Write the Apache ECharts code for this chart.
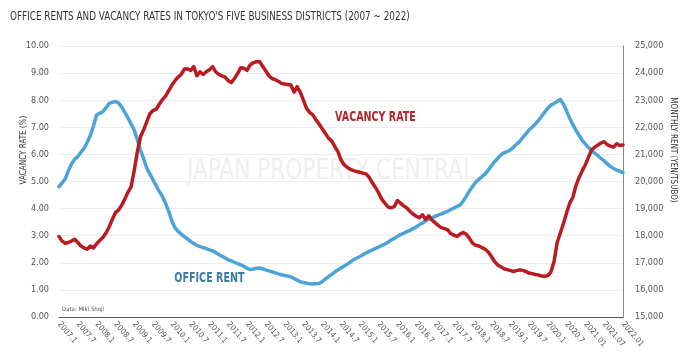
<!DOCTYPE html>
<html><head><meta charset="utf-8">
<script src="https://cdn.jsdelivr.net/npm/echarts@6/dist/echarts.min.js"></script>
<style>html,body{margin:0;padding:0;background:#fff}#c{width:688px;height:359px}</style>
</head><body><div id="c"></div>
<script>
const tickLabels = ['2007.1','2007.7','2008.1','2008.7','2009.1','2009.7','2010.1','2010.7','2011.1','2011.7',
  '2012.1','2012.7','2013.1','2013.7','2014.1','2014.7','2015.1','2015.7','2016.1','2016.7',
  '2017.1','2017.7','2018.1','2018.7','2019.1','2019.7','2020.1','2020.7','2021.01','2021.07','2022.01'];

// Vacancy rate (%), monthly 2007.1 - 2022.1
const vacancyRate = [
  2.97,2.80,2.72,2.75,2.80,2.87,2.75,2.62,2.55,2.50,2.62,2.55,
  2.70,2.82,2.93,3.10,3.32,3.60,3.85,3.95,4.12,4.35,4.60,4.80,
  5.40,6.10,6.65,6.90,7.20,7.50,7.62,7.66,7.85,8.02,8.15,8.35,
  8.55,8.72,8.85,8.95,9.15,9.16,9.10,9.24,8.90,9.05,8.95,9.05,
  9.12,9.24,9.05,8.95,8.90,8.85,8.72,8.65,8.80,8.98,9.20,9.18,
  9.10,9.30,9.38,9.42,9.43,9.25,9.08,8.90,8.80,8.76,8.70,8.62,
  8.60,8.58,8.56,8.30,8.50,8.30,8.00,7.70,7.55,7.46,7.28,7.12,
  6.95,6.78,6.60,6.50,6.30,6.10,5.80,5.62,5.52,5.45,5.40,5.37,
  5.34,5.31,5.28,5.15,4.95,4.78,4.58,4.35,4.20,4.06,4.03,4.07,
  4.30,4.20,4.10,4.02,3.90,3.80,3.72,3.66,3.77,3.60,3.73,3.58,
  3.48,3.38,3.30,3.26,3.22,3.08,3.02,2.97,3.06,3.12,3.05,2.90,
  2.72,2.65,2.62,2.56,2.50,2.40,2.23,2.05,1.92,1.85,1.78,1.75,
  1.72,1.68,1.71,1.74,1.72,1.68,1.62,1.60,1.57,1.55,1.51,1.50,
  1.53,1.66,2.05,2.75,3.10,3.45,3.85,4.20,4.42,4.85,5.15,5.40,
  5.62,5.90,6.17,6.27,6.35,6.42,6.47,6.36,6.30,6.27,6.39,6.33,
  6.35
];

// Monthly rent (yen/tsubo), monthly 2007.1 - 2022.1
const officeRent = [
  19810,19950,20100,20400,20650,20820,20920,21080,21220,21450,21700,22050,
  22450,22520,22580,22720,22880,22920,22950,22900,22750,22550,22350,22120,
  21900,21550,21150,20850,20500,20280,20060,19850,19630,19450,19200,18900,
  18550,18300,18160,18060,17970,17880,17790,17710,17640,17600,17560,17520,
  17480,17440,17380,17300,17240,17180,17110,17070,17020,16970,16930,16870,
  16800,16750,16770,16800,16810,16780,16740,16700,16670,16630,16590,16560,
  16530,16510,16480,16420,16360,16300,16270,16250,16230,16220,16230,16240,
  16300,16400,16490,16570,16660,16740,16810,16880,16950,17030,17110,17170,
  17230,17300,17360,17420,17480,17530,17580,17640,17690,17760,17840,17900,
  17970,18040,18090,18150,18200,18260,18320,18400,18470,18550,18610,18660,
  18710,18760,18800,18850,18900,18960,19020,19080,19130,19280,19460,19650,
  19820,19980,20080,20180,20280,20420,20580,20730,20850,20980,21060,21100,
  21160,21260,21380,21470,21620,21760,21900,22000,22120,22250,22400,22560,
  22700,22820,22880,22950,23030,22850,22600,22330,22100,21880,21700,21520,
  21380,21250,21140,21050,20950,20850,20750,20650,20550,20480,20420,20370,
  20330
];

// Series annotation labels: [text, month index, value on its own axis, yAxisIndex, colour]
const annotations = [
  ['VACANCY RATE', 101, 7.36, 0, '#b3262f'],
  ['OFFICE RENT', 48, 16430, 1, '#3b7ca5']
];

const months = [];
for (let y = 2007; y <= 2022; y++) {
  for (let m = 1; m <= 12; m++) {
    if (months.length < vacancyRate.length) months.push(y + '.' + m);
  }
}

const NARROW = '"Liberation Sans Narrow","DejaVu Sans Condensed",sans-serif';
const chart = echarts.init(document.getElementById('c'), null, {renderer: 'canvas'});
const baseGraphics = [
  {type: 'text', x: 10, y: 17, scaleX: 0.82, silent: true,
   style: {text: "OFFICE RENTS AND VACANCY RATES IN TOKYO'S FIVE BUSINESS DISTRICTS (2007 ~ 2022)",
     fill: '#333', font: '12px ' + NARROW, align: 'left', verticalAlign: 'middle'}},
  {type: 'text', x: 331, y: 172, scaleX: 0.86, silent: true, z: 0,
   style: {text: 'JAPAN PROPERTY CENTRAL', fill: '#efefef', font: '28px ' + NARROW, align: 'center', verticalAlign: 'middle'}},
  {type: 'text', x: 62, y: 309, style: {text: 'Data: Miki Shoji', fill: '#555', font: '6px ' + NARROW, align: 'left', verticalAlign: 'middle'}},
  {type: 'text', x: 24, y: 150, rotation: Math.PI / 2,
   style: {text: 'VACANCY RATE (%)', fill: '#333', font: '8px ' + NARROW, align: 'center', verticalAlign: 'middle'}},
  {type: 'text', x: 673, y: 150, rotation: -Math.PI / 2,
   style: {text: 'MONTHLY RENT (YEN/TSUBO)', fill: '#333', font: '8px ' + NARROW, align: 'center', verticalAlign: 'middle'}}
];
chart.setOption({
  animation: false,
  backgroundColor: '#fff',
  grid: {left: 59, right: 65, top: 46, bottom: 42},
  graphic: baseGraphics,
  xAxis: {
    type: 'category', data: months, boundaryGap: false,
    axisLine: {lineStyle: {color: '#555', width: 1}},
    axisTick: {show: false},
    axisLabel: {
      interval: 5, rotate: -50, fontSize: 8, fontFamily: NARROW, color: '#555', margin: 6,
      formatter: (v, i) => tickLabels[i / 6]
    },
    splitLine: {show: false}
  },
  yAxis: [
    {type: 'value', min: 0, max: 10, interval: 1, position: 'left',
     axisLine: {show: false}, axisTick: {show: false},
     axisLabel: {fontSize: 9, fontFamily: NARROW, color: '#555', margin: 10, formatter: v => v.toFixed(2)},
     splitLine: {lineStyle: {color: '#ececec', width: 1}}},
    {type: 'value', min: 15000, max: 25000, interval: 1000, position: 'right',
     axisLine: {show: true, lineStyle: {color: '#888', width: 1}}, axisTick: {show: false},
     axisLabel: {fontSize: 9, fontFamily: NARROW, color: '#555', margin: 12,
       formatter: v => v.toLocaleString('en-US')},
     splitLine: {show: false}}
  ],
  series: [
    {name: 'Office Rent', type: 'line', yAxisIndex: 1, data: officeRent, showSymbol: false,
     lineStyle: {color: '#4ba3d8', width: 3.5, cap: 'round', join: 'round'}, z: 3},
    {name: 'Vacancy Rate', type: 'line', yAxisIndex: 0, data: vacancyRate, showSymbol: false,
     lineStyle: {color: '#b81c22', width: 3.5, cap: 'round', join: 'round'}, z: 4}
  ]
});
const annoGraphics = annotations.map(([text, idx, val, ax, col]) => {
  const p = chart.convertToPixel({xAxisIndex: 0, yAxisIndex: ax}, [idx, val]);
  return {type: 'text', x: p[0], y: p[1], scaleX: 0.76, z: 10,
    style: {text: text, fill: col, font: 'bold 14px ' + NARROW, align: 'center', verticalAlign: 'middle'}};
});
chart.setOption({graphic: baseGraphics.concat(annoGraphics)});
</script></body></html>
